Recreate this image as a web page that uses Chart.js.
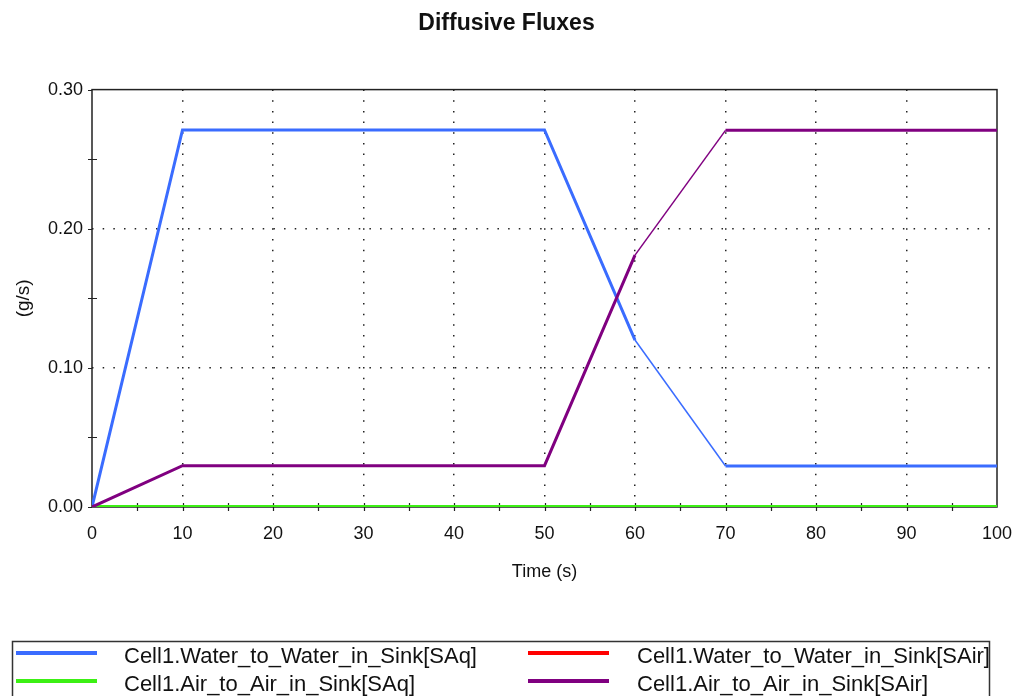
<!DOCTYPE html>
<html>
<head>
<meta charset="utf-8">
<script src="https://cdn.jsdelivr.net/npm/chart.js@4"></script>
<style>
  html, body { margin: 0; padding: 0; background: #fff; }
</style>
</head>
<body>
<canvas id="fluxChart" width="1013" height="696"></canvas>
<script>
// dados
var times = [0, 10, 20, 30, 40, 50, 60, 70, 80, 90, 100];
var waterSAq  = [0, 0.271, 0.271, 0.271, 0.271, 0.271, 0.120, 0.0295, 0.0295, 0.0295, 0.0295];
var waterSAir = [0, 0, 0, 0, 0, 0, 0, 0, 0, 0, 0];
var airSAq    = [0, 0, 0, 0, 0, 0, 0, 0, 0, 0, 0];
var airSAir   = [0, 0.0297, 0.0297, 0.0297, 0.0297, 0.0297, 0.181, 0.2707, 0.2707, 0.2707, 0.2707];
var seriesNames = [
  'Cell1.Water_to_Water_in_Sink[SAq]',
  'Cell1.Water_to_Water_in_Sink[SAir]',
  'Cell1.Air_to_Air_in_Sink[SAq]',
  'Cell1.Air_to_Air_in_Sink[SAir]'
];
var yTickValues = [0, 0.1, 0.2, 0.3];
var xTickStep = 10;

function pts(vals) {
  return times.map(function (t, i) { return { x: t, y: vals[i] }; });
}
// segmento 60-70 desenhado mais fino
function segWidth(ctx) {
  return ctx.p0.parsed.x === 60 ? 1.5 : 3;
}

var FONT = 'Arial, "Liberation Sans", sans-serif';

// moldura + marcas de escala
var frameTicks = {
  id: 'frameTicks',
  beforeDatasetsDraw: function (chart) {
    var c = chart.ctx, a = chart.chartArea;
    var xs = chart.scales.x, ys = chart.scales.y;
    c.save();
    c.strokeStyle = '#222';
    c.lineWidth = 1.5;
    c.strokeRect(a.left, a.top, a.right - a.left, a.bottom - a.top);
    c.lineWidth = 1.2;
    c.beginPath();
    for (var v = 5; v < 100; v += 5) {
      var px = Math.round(xs.getPixelForValue(v)) + 0.5;
      c.moveTo(px, a.bottom - 4);
      c.lineTo(px, a.bottom + 4);
    }
    for (var k = 0; k <= 6; k++) {
      var py = Math.round(ys.getPixelForValue(k * 0.05)) + 0.5;
      if (k % 2 === 0) {
        c.moveTo(a.left - 4, py);
        c.lineTo(a.left, py);
      } else {
        c.moveTo(a.left - 4, py);
        c.lineTo(a.left + 5, py);
      }
    }
    c.stroke();
    c.restore();
  }
};

// legenda em caixa, duas colunas
var boxLegend = {
  id: 'boxLegend',
  afterDraw: function (chart) {
    var c = chart.ctx;
    var lineX = [16, 528], textX = [124, 637], rowY = [653, 681];
    c.save();
    c.strokeStyle = '#333';
    c.lineWidth = 1.5;
    c.beginPath();
    c.moveTo(12.5, 700);
    c.lineTo(12.5, 641.5);
    c.lineTo(989.5, 641.5);
    c.lineTo(989.5, 700);
    c.stroke();
    c.font = '22px ' + FONT;
    c.textBaseline = 'middle';
    c.fillStyle = '#111';
    chart.data.datasets.forEach(function (ds, i) {
      var col = i % 2, row = Math.floor(i / 2);
      c.strokeStyle = ds.borderColor;
      c.lineWidth = 4;
      c.beginPath();
      c.moveTo(lineX[col], rowY[row]);
      c.lineTo(lineX[col] + 81, rowY[row]);
      c.stroke();
      c.fillText(ds.label, textX[col], rowY[row] + 4);
    });
    c.restore();
  }
};

var ctx = document.getElementById('fluxChart').getContext('2d');
var fluxChart = new Chart(ctx, {
  type: 'line',
  data: {
    datasets: [{
      label: seriesNames[0],
      data: pts(waterSAq),
      borderColor: '#3a6cff',
      borderWidth: 3,
      segment: { borderWidth: segWidth },
      order: 1
    }, {
      label: seriesNames[1],
      data: pts(waterSAir),
      borderColor: '#ff0000',
      borderWidth: 3,
      order: 3
    }, {
      label: seriesNames[2],
      data: pts(airSAq),
      borderColor: '#3cf014',
      borderWidth: 4,
      order: 2
    }, {
      label: seriesNames[3],
      data: pts(airSAir),
      borderColor: '#800080',
      borderWidth: 3,
      segment: { borderWidth: segWidth },
      order: 0
    }]
  },
  options: {
    responsive: false,
    animation: false,
    elements: { point: { radius: 0 }, line: { tension: 0 } },
    layout: { padding: { left: 0, right: 0, top: 0, bottom: 109 } },
    plugins: {
      legend: { display: false },
      tooltip: { enabled: false },
      title: {
        display: true,
        text: 'Diffusive Fluxes',
        color: '#111',
        font: { family: FONT, size: 23, weight: 'bold' },
        padding: { top: 10, bottom: 52 }
      }
    },
    scales: {
      x: {
        type: 'linear',
        min: 0,
        max: 100,
        afterFit: function (s) {
          s.height = 80;
          s.paddingLeft = 0;
          s.paddingRight = 16;
        },
        ticks: {
          stepSize: xTickStep,
          color: '#111',
          padding: 16,
          maxRotation: 0,
          font: { family: FONT, size: 18 }
        },
        grid: {
          drawTicks: false,
          color: function (c) {
            return (c.tick && (c.tick.value === 0 || c.tick.value === 100)) ? 'rgba(0,0,0,0)' : '#222';
          },
          lineWidth: 1.5
        },
        border: { display: false, dash: [1.5, 9.17] },
        title: {
          display: true,
          text: 'Time (s)',
          color: '#111',
          font: { family: FONT, size: 18 },
          padding: { top: 0, bottom: 4 }
        }
      },
      y: {
        min: 0,
        max: 0.3,
        afterFit: function (s) { s.width = 92; },
        afterBuildTicks: function (s) {
          s.ticks = yTickValues.map(function (v) { return { value: v }; });
        },
        ticks: {
          color: '#111',
          padding: 9,
          font: { family: FONT, size: 18 },
          callback: function (v) { return Number(v).toFixed(2); }
        },
        grid: {
          drawTicks: false,
          color: function (c) {
            return (c.tick && (c.tick.value === 0 || c.tick.value === 0.3)) ? 'rgba(0,0,0,0)' : '#222';
          },
          lineWidth: 1.5
        },
        border: { display: false, dash: [1.5, 9.17] },
        title: {
          display: true,
          text: '(g/s)',
          color: '#111',
          font: { family: FONT, size: 19 },
          padding: { top: 12, bottom: 0 }
        }
      }
    }
  },
  plugins: [frameTicks, boxLegend]
});
</script>
</body>
</html>
